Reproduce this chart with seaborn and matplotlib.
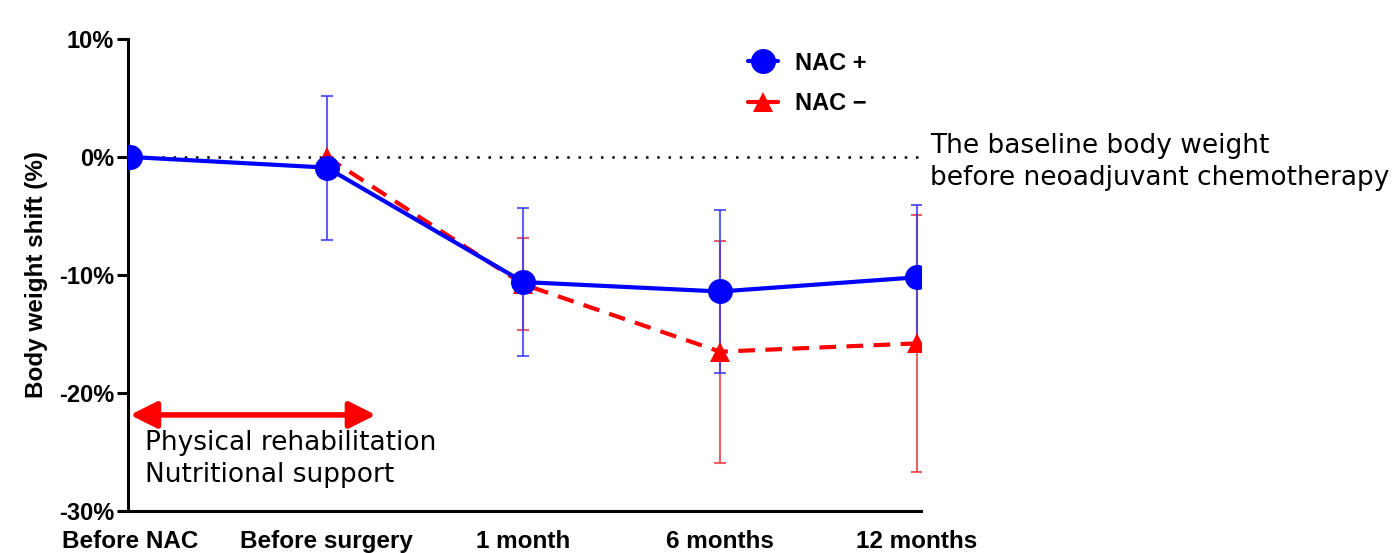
import numpy as np
import pandas as pd
import matplotlib
matplotlib.use("Agg")
import matplotlib.pyplot as plt
from matplotlib.lines import Line2D
import seaborn as sns

# ---- data ----
timepoints = ["Before NAC", "Before surgery", "1 month", "6 months", "12 months"]
nac_plus_mean = [0.0, -0.9, -10.6, -11.4, -10.2]
nac_plus_sd = [0.0, 6.1, 6.3, 6.9, 6.1]
nac_minus_mean = [np.nan, 0.0, -10.8, -16.5, -15.8]
nac_minus_sd = [np.nan, 0.0, 3.9, 9.4, 10.9]
groups = ["NAC +", "NAC \u2212"]
yticks = [10, 0, -10, -20, -30]

sns.set_theme(style="white")
plt.rcParams["font.family"] = ["Liberation Sans", "DejaVu Sans"]
for k in ["text.color", "axes.labelcolor", "xtick.color", "ytick.color", "axes.edgecolor"]:
    plt.rcParams[k] = "black"

fig = plt.figure(figsize=(13.98, 5.53), dpi=100)
ax = fig.add_axes([0.0916, 0.076, 0.567, 0.8535])

pos = list(range(len(timepoints)))
df = pd.DataFrame({
    "pos": pos * 2,
    "value": nac_plus_mean + nac_minus_mean,
    "group": [groups[0]] * len(pos) + [groups[1]] * len(pos),
})

ax.axhline(0, color="black", ls=(0, (1, 3.5)), lw=1.8, zorder=1)

# error bars
ax.errorbar(pos, nac_minus_mean, yerr=nac_minus_sd, fmt="none", ecolor="#e8383c",
            elinewidth=1.5, capsize=4, capthick=1.5, alpha=0.8, zorder=2)
ax.errorbar(pos, nac_plus_mean, yerr=nac_plus_sd, fmt="none", ecolor="#3a3af0",
            elinewidth=1.5, capsize=4, capthick=1.5, alpha=0.8, zorder=2)

sns.lineplot(data=df[df.group == groups[1]], x="pos", y="value", color="#ff0000",
             lw=3, marker="^", markersize=15, markeredgewidth=0,
             dashes=False, ax=ax, legend=False, zorder=3)
ax.lines[-1].set_dashes([4, 2.5])
sns.lineplot(data=df[df.group == groups[0]], x="pos", y="value", color="#0000ff",
             lw=3, marker="o", markersize=18, markeredgewidth=0,
             ax=ax, legend=False, zorder=4)

ax.set_xlim(-0.01, 4.02)
ax.set_ylim(-30, 10)
ax.set_xticks(pos)
ax.set_xticklabels(timepoints, fontsize=17.5, fontweight="bold")
ax.set_yticks(yticks)
ax.set_yticklabels([f"{v}%" for v in yticks], fontsize=17, fontweight="bold")
ax.tick_params(axis="x", length=0, pad=14)
ax.tick_params(axis="y", length=8, width=2.2, direction="out", pad=2, left=True)
ax.set_xlabel("")
ax.set_ylabel("Body weight shift (%)", fontsize=17.5, fontweight="bold", labelpad=8)
for s in ["top", "right"]:
    ax.spines[s].set_visible(False)
for s in ["left", "bottom"]:
    ax.spines[s].set_linewidth(2.2)
    ax.spines[s].set_color("black")

# legend
handles = [
    Line2D([], [], color="#0000ff", lw=3, marker="o", markersize=18, markeredgewidth=0),
    Line2D([], [], color="#ff0000", lw=3, marker="^", markersize=15, markeredgewidth=0),
]
leg = fig.legend(handles, groups, loc="upper left", bbox_to_anchor=(0.5195, 0.945),
                 frameon=False, handlelength=1.3, handletextpad=0.7, labelspacing=0.75,
                 prop={"family": "Liberation Sans", "weight": "bold", "size": 17})

# annotations
ax.annotate("", xy=(0.0, -21.86), xytext=(1.25, -21.86),
            arrowprops=dict(arrowstyle="<|-|>", color="#ff0000", lw=4,
                            mutation_scale=40, shrinkA=0, shrinkB=0))
ax.text(0.076, -25.6, "Physical rehabilitation\nNutritional support",
        fontsize=19, family="DejaVu Sans", va="center", ha="left", color="black",
        linespacing=1.3)
ax.text(4.066, -0.4, "The baseline body weight\nbefore neoadjuvant chemotherapy",
        fontsize=19, family="DejaVu Sans", va="center", ha="left", color="black",
        clip_on=False, linespacing=1.3)

fig.savefig("out.png", dpi=100)
